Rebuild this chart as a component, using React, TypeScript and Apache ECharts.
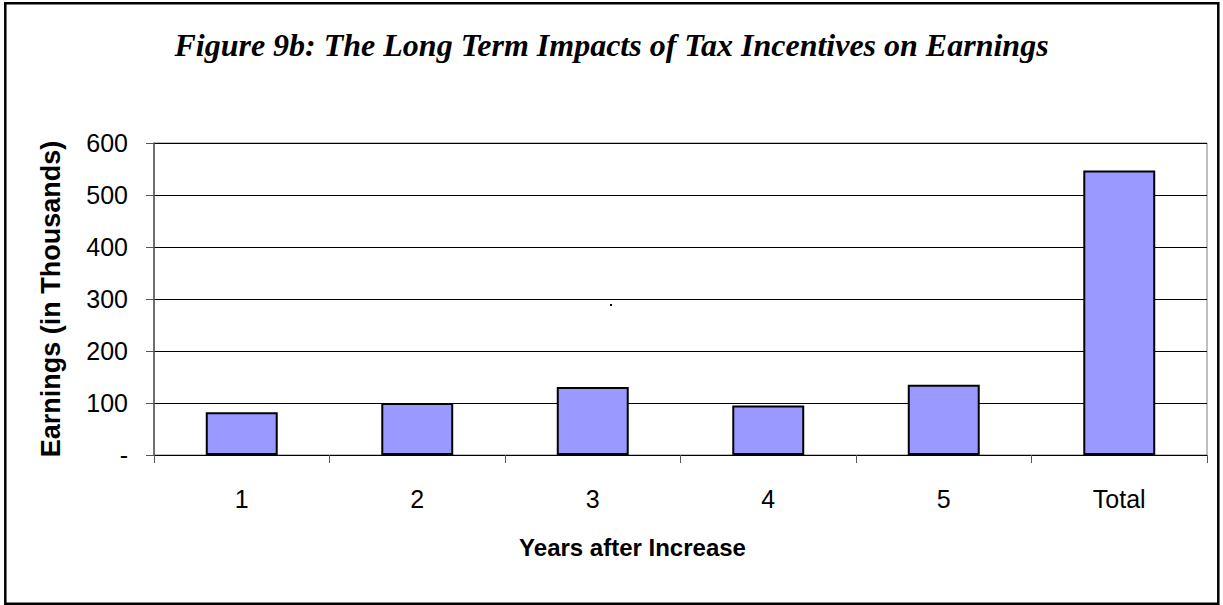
import React, { useEffect, useRef } from "react";
import * as echarts from "echarts";

const categories = ["1", "2", "3", "4", "5", "Total"];
const earnings = [82, 100, 131, 95, 135, 547];
const yMin = 0;
const yMax = 600;
const yStep = 100;
const titleText = "Figure 9b: The Long Term Impacts of Tax Incentives on Earnings";
const xName = "Years after Increase";
const yName = "Earnings (in Thousands)";

export default function App() {
  const ref = useRef<HTMLDivElement>(null);
  useEffect(() => {
    document.body.style.margin = "0";
    const chart = echarts.init(ref.current!, undefined, { renderer: "svg" });
    chart.setOption({
      animation: false,
      backgroundColor: "#ffffff",
      title: {
        text: titleText,
        left: "center",
        top: 24,
        textStyle: {
          fontFamily: "Liberation Serif, Times New Roman, serif",
          fontStyle: "italic",
          fontWeight: "bold",
          fontSize: 32,
          color: "#000",
        },
      },
      grid: {
        left: 154,
        right: 16,
        top: 143,
        bottom: 150,
        show: true,
        borderColor: "#808080",
        borderWidth: 1,
        backgroundColor: "transparent",
      },
      xAxis: {
        type: "category",
        data: categories,
        name: xName,
        nameLocation: "middle",
        nameGap: 80,
        nameTextStyle: {
          fontFamily: "Liberation Sans, Arial, sans-serif",
          fontWeight: "bold",
          fontSize: 24,
          color: "#000",
          padding: [0, 96, 0, 0],
        },
        axisLine: { lineStyle: { color: "#000", width: 1 } },
        axisTick: { show: true, alignWithLabel: false, length: 8, lineStyle: { color: "#555" } },
        axisLabel: {
          margin: 31,
          fontFamily: "Liberation Sans, Arial, sans-serif",
          fontSize: 25,
          color: "#000",
        },
      },
      yAxis: {
        type: "value",
        min: yMin,
        max: yMax,
        interval: yStep,
        name: yName,
        nameLocation: "middle",
        nameGap: 90,
        nameTextStyle: {
          fontFamily: "Liberation Sans, Arial, sans-serif",
          fontWeight: "bold",
          fontSize: 27,
          color: "#000",
        },
        axisLine: { show: true, lineStyle: { color: "#555", width: 1.5 } },
        axisTick: { show: true, length: 8, lineStyle: { color: "#555" } },
        axisLabel: {
          margin: 26,
          fontFamily: "Liberation Sans, Arial, sans-serif",
          fontSize: 25,
          color: "#000",
          formatter: (v: number) => (v === 0 ? "-" : String(v)),
        },
        splitLine: { show: true, lineStyle: { color: "#000", width: 1 } },
      },
      series: [
        {
          type: "bar",
          data: earnings,
          barWidth: "41%",
          itemStyle: { color: "#9999FF", borderColor: "#000", borderWidth: 2 },
        },
      ],
      graphic: [
        {
          type: "rect",
          shape: { x: 5.3, y: 3.3, width: 1213, height: 600.5 },
          style: { fill: "none", stroke: "#000", lineWidth: 2.5 },
          silent: true,
        },
        {
          type: "rect",
          shape: { x: 610, y: 304, width: 2, height: 2 },
          style: { fill: "#000" },
          silent: true,
        },
      ],
    });
    return () => chart.dispose();
  }, []);
  return <div ref={ref} style={{ width: 1223, height: 605 }} />;
}
